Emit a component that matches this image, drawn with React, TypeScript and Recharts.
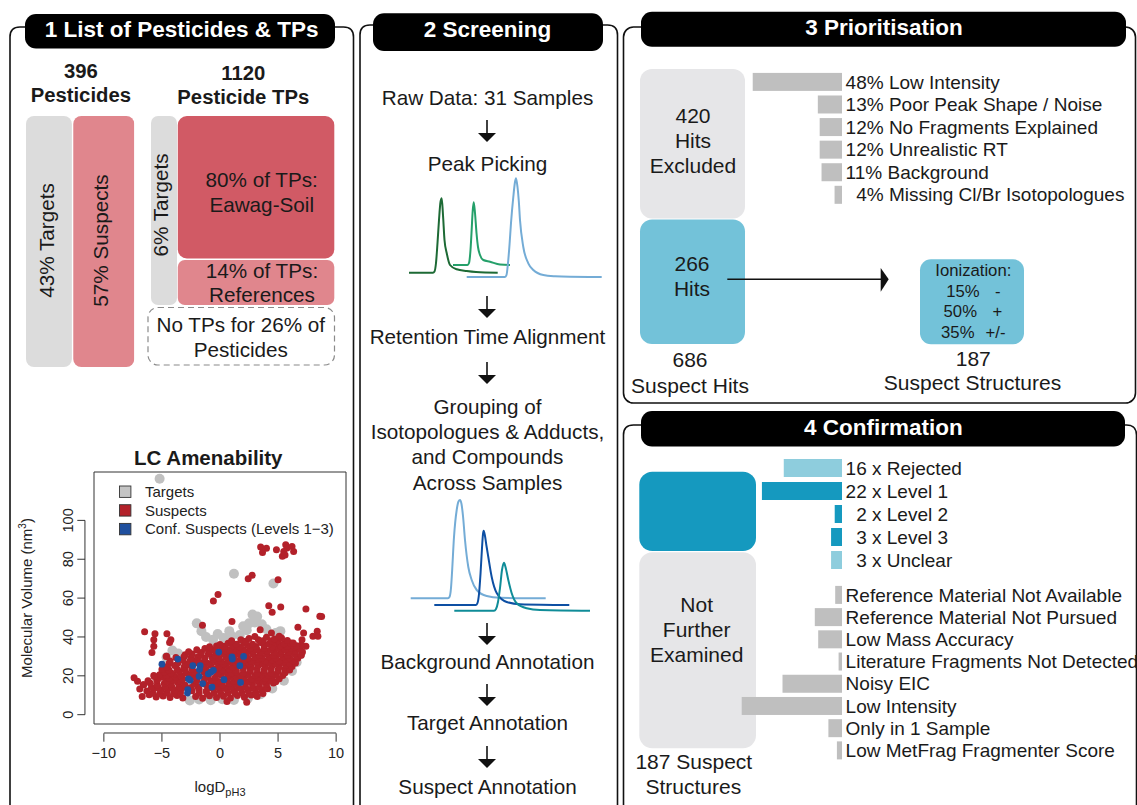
import React from 'react';
import {
  BarChart, Bar, XAxis, YAxis, Cell, LabelList,
  LineChart, Line, ScatterChart, Scatter, ReferenceLine, ReferenceArea, Legend,
} from 'recharts';

const FONT = '"Liberation Sans", Arial, Helvetica, sans-serif';
const INK = '#1a1a1a';

// ---- 1: composition of the compound list ----
const pesticideGroups = ['Pesticides'];
const pesticideTargetsPct = [43];
const pesticideSuspectsPct = [57];

// ---- 1: LC amenability (logD at pH 3 vs molecular volume, nm^3) ----
const targetPoints: [number, number][] = [
  [-5.2, 121.4], [1.2, 72.5], [4.6, 67.5], [2.8, 51.5], [3.2, 50.5], [2.5, 47.0], [-2.0, 47.0],
  [-1.6, 43.0], [-1.2, 40.0], [-0.6, 38.5], [0.3, 39.5], [1.0, 40.5], [1.7, 41.0], [2.3, 43.5],
  [3.6, 46.5], [4.0, 44.0], [4.8, 42.0], [5.2, 43.0], [-4.1, 33.0], [-3.6, 31.5], [-4.6, 29.5],
  [-2.6, 7.3], [-1.8, 7.8], [-0.8, 7.4], [0.2, 8.0], [1.2, 7.6], [2.4, 8.4], [3.5, 10.5],
  [4.5, 13.5], [5.5, 17.5], [6.2, 22.5], [6.6, 27.0], [6.9, 31.0], [-2.4, 28.5], [1.8, 35.5],
  [4.9, 35.0], [-0.2, 41.5], [0.8, 43.0], [2.0, 45.5], [3.0, 47.5],
];

const suspectPoints: [number, number][] = [
  [-6.7, 9.4], [-6.1, 10.2], [-5.5, 9.1], [-4.9, 9.6], [-4.3, 8.8], [-3.7, 9.9], [-3.2, 8.6],
  [-2.1, 9.3], [-1.5, 8.4], [-0.9, 9.8], [-0.3, 8.9], [0.3, 9.5], [0.9, 8.6], [1.5, 9.9],
  [2.1, 9.0], [2.7, 10.1], [3.2, 9.4], [0.6, 6.8], [2.3, 6.4],
  [-5.8, 11.0], [-5.2, 10.8], [-4.6, 11.2], [-4.0, 10.9], [-3.4, 11.3], [-1.8, 11.0], [-1.1, 10.7],
  [-0.5, 11.2], [0.1, 10.8], [0.7, 11.3], [1.3, 10.9], [1.9, 11.1], [2.5, 10.8], [3.1, 11.2], [3.7, 10.9],
  [-6.3, 12.2], [-5.7, 13.4], [-5.1, 12.6], [-4.5, 13.1], [-3.9, 12.4], [-3.3, 13.5], [-2.4, 12.3],
  [-1.8, 13.2], [-1.2, 12.1], [-0.6, 13.4], [0.0, 12.5], [0.6, 13.1], [1.2, 12.2], [1.8, 13.3],
  [2.4, 12.6], [3.0, 13.2], [3.6, 12.4], [4.1, 13.3],
  [-5.9, 14.0], [-5.3, 13.8], [-4.7, 14.2], [-4.1, 13.9], [-3.5, 14.3], [-2.5, 14.0], [-1.9, 14.4],
  [-1.0, 13.8], [-0.2, 14.1], [0.4, 13.8], [1.0, 14.3], [1.6, 13.9], [2.2, 14.2], [2.8, 13.8],
  [3.4, 14.3], [4.0, 14.0],
  [-6.6, 15.4], [-6.0, 16.2], [-5.4, 15.3], [-4.8, 16.1], [-4.2, 15.6], [-3.6, 16.3], [-3.0, 15.2],
  [-2.2, 15.8], [-1.2, 15.4], [-0.4, 16.2], [0.2, 15.3], [0.8, 16.1], [1.4, 15.5], [2.2, 16.2],
  [2.8, 15.4], [3.4, 16.1], [4.0, 15.5], [4.6, 16.3],
  [-6.2, 17.5], [-4.6, 17.2], [-4.0, 17.6], [-3.4, 17.1], [-2.0, 17.4], [-1.4, 17.0], [-0.8, 17.5],
  [-0.1, 17.1], [0.6, 17.6], [1.2, 17.2], [1.9, 17.5], [2.5, 17.1], [3.1, 17.6], [3.7, 17.2],
  [4.3, 17.6], [4.8, 17.0],
  [-7.1, 17.2], [-5.4, 17.7], [-5.0, 19.3], [-4.4, 18.6], [-3.8, 19.1], [-3.2, 18.3], [-2.2, 19.4],
  [-1.3, 18.7], [-0.4, 19.2], [0.4, 18.5], [0.9, 19.4], [1.5, 18.6], [2.1, 19.2], [2.7, 18.4],
  [3.3, 19.3], [3.9, 18.6], [4.5, 19.2], [5.1, 18.5],
  [-5.2, 20.6], [-4.6, 20.2], [-4.0, 20.7], [-3.4, 20.1], [-2.6, 20.5], [-2.0, 20.9], [-1.0, 20.0],
  [0.1, 20.4], [0.7, 20.1], [1.2, 20.7], [1.8, 20.2], [2.4, 20.7], [3.0, 20.1], [3.6, 20.6],
  [4.2, 20.1], [4.8, 20.7], [5.4, 20.2],
  [-7.4, 19.0], [-5.7, 20.1], [-4.8, 22.1], [-4.2, 21.4], [-3.5, 22.2], [-2.9, 21.3], [-2.2, 22.0],
  [-1.4, 21.8], [-0.2, 21.3], [0.4, 22.2], [1.0, 21.4], [1.4, 22.1], [2.0, 21.3], [2.6, 22.2],
  [3.2, 21.4], [3.8, 22.1], [4.4, 21.3], [5.0, 22.2], [5.6, 21.6],
  [-5.0, 23.3], [-4.4, 23.0], [-3.7, 23.5], [-3.0, 23.0], [-2.4, 23.4], [-1.2, 23.1], [-0.4, 23.5],
  [0.2, 23.0], [0.8, 23.4], [1.4, 23.0], [2.0, 23.5], [2.6, 23.1], [3.2, 23.5], [3.8, 23.0],
  [4.4, 23.6], [5.0, 23.1], [5.6, 23.5], [6.0, 23.0],
  [-4.6, 24.6], [-3.9, 25.3], [-3.1, 24.4], [-2.7, 25.6], [-1.4, 24.8], [-0.8, 25.5], [-0.1, 24.6],
  [0.5, 25.4], [1.1, 24.5], [2.2, 25.3], [2.7, 24.4], [3.3, 25.4], [3.9, 24.6], [4.5, 25.3],
  [5.1, 24.5], [5.7, 25.4], [6.2, 24.8],
  [-4.4, 26.2], [-3.6, 26.7], [-3.0, 26.1], [-2.2, 26.5], [-1.7, 26.9], [-1.0, 26.3], [-0.3, 26.8],
  [0.3, 26.2], [0.9, 26.9], [1.4, 26.0], [2.0, 26.8], [2.5, 26.2], [3.1, 26.8], [3.7, 26.1],
  [4.2, 26.7], [4.8, 26.2], [5.4, 26.8], [6.0, 26.3], [6.5, 26.6],
  [-4.3, 27.6], [-3.2, 28.3], [-2.6, 27.4], [-2.0, 28.2], [-1.3, 27.5], [-0.6, 28.3], [0.1, 27.4],
  [0.7, 28.2], [1.5, 27.6], [2.1, 28.3], [2.7, 27.5], [3.3, 28.4], [3.9, 27.6], [4.5, 28.3],
  [5.1, 27.5], [5.7, 28.4], [6.3, 27.7], [6.7, 29.0],
  [-3.8, 29.4], [-3.1, 29.8], [-2.5, 29.3], [-1.9, 29.8], [-1.3, 29.2], [-0.7, 29.7], [-0.1, 29.1],
  [0.5, 29.6], [1.2, 29.0], [1.8, 29.6], [2.4, 29.1], [3.0, 29.7], [3.6, 29.2], [4.2, 29.8],
  [4.8, 29.2], [5.4, 29.8], [6.0, 29.2], [6.6, 30.0],
  [-4.6, 30.1], [-3.0, 30.8], [-2.4, 31.2], [-1.7, 30.4], [-1.0, 31.3], [-0.4, 30.5], [0.3, 31.2],
  [0.9, 30.4], [1.5, 31.3], [2.2, 30.6], [2.8, 31.4], [3.4, 30.5], [4.0, 31.3], [4.6, 30.4],
  [5.2, 31.2], [5.8, 30.5], [6.4, 31.3], [7.0, 30.6],
  [-2.7, 32.4], [-1.6, 32.0], [-0.9, 32.6], [-0.3, 32.0], [0.5, 32.6], [1.1, 32.0], [1.7, 32.7],
  [2.3, 32.1], [2.9, 32.7], [3.5, 32.0], [4.1, 32.6], [4.7, 32.0], [5.3, 32.7], [5.9, 32.1],
  [6.5, 32.6], [7.1, 32.2],
  [-2.0, 33.4], [-1.3, 34.1], [-0.6, 33.3], [0.2, 34.2], [0.8, 33.4], [1.4, 34.2], [2.0, 33.5],
  [2.6, 34.3], [3.2, 33.4], [3.8, 34.2], [4.4, 33.5], [5.0, 34.3], [5.6, 33.4], [6.2, 34.1],
  [6.9, 33.6], [7.4, 35.2],
  [-0.9, 35.0], [-0.3, 35.4], [0.4, 35.2], [1.1, 35.5], [1.7, 35.0], [2.4, 35.6], [3.1, 35.1],
  [3.8, 35.6], [4.5, 35.0], [5.2, 35.5], [5.8, 35.1], [6.4, 34.8], [7.0, 35.8],
  [0.0, 36.1], [0.7, 36.8], [1.4, 36.2], [2.1, 37.0], [2.8, 36.3], [3.5, 37.1], [4.2, 36.4],
  [4.8, 37.2], [5.5, 36.5], [6.1, 36.9], [6.6, 35.5],
  [1.0, 38.0], [1.8, 38.5], [2.2, 37.8], [3.7, 38.0], [4.4, 38.1], [5.0, 38.0], [5.8, 38.2],
  [2.5, 39.2], [3.3, 38.6], [4.0, 39.8], [4.7, 38.9], [5.3, 39.5], [3.0, 40.2],
  [3.5, 86.3], [4.0, 85.6], [3.66, 83.5], [4.86, 84.9], [5.66, 87.5], [5.77, 85.8], [5.49, 84.0],
  [6.2, 86.6], [6.34, 84.0], [5.37, 81.5], [5.6, 82.2], [2.77, 71.7], [2.43, 70.0], [5.0, 69.5],
  [-0.17, 61.9], [-0.57, 58.5], [1.03, 48.0], [-1.51, 46.0], [4.2, 56.0], [4.49, 52.7], [5.23, 55.4],
  [7.4, 54.4], [8.6, 50.6], [8.75, 50.5], [6.71, 45.0], [7.2, 42.0], [8.0, 40.3], [8.37, 42.9],
  [8.43, 40.3], [7.06, 38.6], [3.46, 43.7], [4.43, 42.0], [-6.49, 42.7], [-5.6, 41.7], [-4.57, 41.7],
  [-4.23, 38.6], [-4.34, 37.2], [-5.7, 38.6], [-5.7, 35.2], [-5.86, 32.0], [-4.63, 30.0],
  [-5.43, 17.7], [-6.91, 13.2], [-6.57, 15.4], [-5.66, 19.7], [5.1, 40.3], [6.3, 36.9],
];

const confirmedPoints: [number, number][] = [
  [-5.0, 26.0], [-3.63, 28.6], [-2.34, 25.2], [-2.57, 17.7], [-2.71, 18.4], [-2.77, 12.9],
  [-2.8, 11.1], [-1.71, 25.2], [-1.77, 23.2], [-1.8, 19.7], [-1.49, 16.0], [-1.0, 21.0],
  [-0.77, 22.0], [-0.57, 22.8], [-0.69, 14.2], [-0.11, 32.2], [0.34, 18.0], [1.03, 29.7],
  [1.06, 28.6], [1.71, 25.2], [2.03, 30.0], [1.77, 16.6],
];

const xTicks = [-10, -5, 0, 5, 10];
const yTicks = [0, 20, 40, 60, 80, 100];

// ---- 2: example chromatograms (retention time in min, intensity) ----
const pickTraceA: [number, number][] = [
  [0.9, 12.3], [3.3, 12.3], [3.45, 13.5], [3.6, 22], [3.75, 42], [3.9, 65], [4.05, 83], [4.17, 86.7],
  [4.3, 70], [4.45, 45], [4.67, 32], [5.0, 20], [5.67, 15.7], [6.67, 14], [7.6, 13], [9.77, 12.3],
];
const pickTraceB: [number, number][] = [
  [5.3, 20], [6.75, 20], [6.9, 22], [7.05, 35], [7.15, 52], [7.27, 74], [7.37, 82.7], [7.5, 72],
  [7.65, 52], [7.8, 38], [8.0, 30], [8.33, 25], [9.0, 23.3], [10.0, 20.5], [11.0, 20],
];
const pickTraceC: [number, number][] = [
  [6.67, 8], [10.5, 8], [10.65, 10], [10.8, 22], [10.95, 40], [11.1, 62], [11.33, 88], [11.5, 103],
  [11.6, 106.7], [11.75, 98], [11.88, 84], [12.0, 65], [12.33, 38], [12.83, 21.7], [13.33, 15],
  [14.33, 10], [15.5, 8.7], [17.0, 8.2], [20.17, 8],
];
const groupTraceA: [number, number][] = [
  [1.07, 21.7], [4.8, 21.7], [4.95, 23], [5.1, 32], [5.2, 47], [5.4, 83], [5.67, 110], [5.85, 118.5],
  [6.0, 120], [6.15, 116], [6.3, 104], [6.5, 80], [6.83, 53], [7.17, 40], [7.67, 30], [8.67, 24],
  [10.0, 22.3], [14.57, 21.7],
];
const groupTraceB: [number, number][] = [
  [3.43, 15], [7.6, 15], [7.75, 17], [7.9, 26], [8.05, 46], [8.2, 72], [8.3, 86], [8.37, 89.3],
  [8.5, 84], [8.65, 74], [8.83, 63], [9.17, 43], [9.67, 27], [10.67, 18], [12.0, 15.8], [16.93, 15],
];
const groupTraceC: [number, number][] = [
  [5.43, 9.3], [9.4, 9.3], [9.6, 11], [9.8, 18], [10.0, 32], [10.2, 50], [10.4, 57.3], [10.55, 53],
  [10.83, 40], [11.17, 26.7], [11.67, 16.7], [12.67, 11.7], [14.0, 10], [19.0, 9.3],
];

// ---- 3: reasons for excluding hits (% of 420) ----
const prioReasons = [
  'Low Intensity', 'Poor Peak Shape / Noise', 'No Fragments Explained',
  'Unrealistic RT', 'Background', 'Missing Cl/Br Isotopologues',
];
const prioPct = [48, 13, 12, 12, 11, 4];

// ---- 4: confirmation outcome (counts) ----
const confLabels = ['Rejected', 'Level 1', 'Level 2', 'Level 3', 'Unclear'];
const confCounts = [16, 22, 2, 3, 3];
const confConfirmed = [false, true, true, true, false];

const notExaminedReasons = [
  'Reference Material Not Available', 'Reference Material Not Pursued', 'Low Mass Accuracy',
  'Literature Fragments Not Detected', 'Noisy EIC', 'Low Intensity', 'Only in 1 Sample',
  'Low MetFrag Fragmenter Score',
];
const notExaminedCounts = [4, 16, 14, 2, 35, 59, 8, 3];

// ---- colours ----
const C = {
  grayBox: '#dcdcdc',
  pink: '#e0868d',
  red: '#d15a65',
  lightBox: '#e6e6e8',
  cyan: '#73c2d9',
  teal: '#1599bf',
  tealLight: '#8ecddd',
  barGray: '#bfbfbf',
  ptGray: '#c0c0c0',
  ptRed: '#b3212a',
  ptBlue: '#1f4f9e',
};

const toXY = (pts: [number, number][]) => pts.map(([x, y]) => ({ x, y }));
const toTrace = (pts: [number, number][]) => pts.map(([rt, i]) => ({ rt, i }));

function rectOf(p: any) {
  const vb = p.viewBox && typeof p.viewBox.x === 'number' ? p.viewBox : p;
  const x = Number(vb.x), w = Number(vb.width), y = Number(vb.y), h = Number(vb.height);
  return { left: Math.min(x, x + w), right: Math.max(x, x + w), top: Math.min(y, y + h), h: Math.abs(h) };
}

// ---------- panel 1: 43 / 57 split ----------
const splitData = pesticideGroups.map((g, i) => ({
  group: g, targets: pesticideTargetsPct[i], suspects: pesticideSuspectsPct[i],
}));

const splitShape = (insetL: number, insetR: number) => (p: any) => (
  <rect x={p.x + insetL} y={p.y} width={Math.max(0, p.width - insetL - insetR)} height={p.height}
    rx={8} ry={8} fill={p.fill} />
);

const rotLabel = (name: string) => (p: any) => {
  const r = rectOf(p);
  const cx = (r.left + r.right) / 2 + 4.5;
  const cy = r.top + r.h / 2 - 1;
  return (
    <text x={cx} y={cy} transform={`rotate(-90 ${cx} ${cy})`} textAnchor="middle"
      fontSize={20.7} fontFamily={FONT} fill={INK}>{`${p.value}% ${name}`}</text>
  );
};

function PesticideSplit() {
  return (
    <BarChart width={150} height={280} layout="vertical" data={splitData}
      margin={{ top: 16, bottom: 13.3, left: 26, right: 15.7 }} barCategoryGap={0} barGap={0}>
      <XAxis type="number" domain={[0, 100]} hide allowDataOverflow />
      <YAxis type="category" dataKey="group" hide />
      <Bar dataKey="targets" stackId="p" fill={C.grayBox} shape={splitShape(0, 0.7)} isAnimationActive={false}>
        <LabelList dataKey="targets" content={rotLabel('Targets')} />
      </Bar>
      <Bar dataKey="suspects" stackId="p" fill={C.pink} shape={splitShape(0.7, 0)} isAnimationActive={false}>
        <LabelList dataKey="suspects" content={rotLabel('Suspects')} />
      </Bar>
    </BarChart>
  );
}

// ---------- panel 1: scatter ----------
const SC_W = 353, SC_H = 375;
const SC_M = { top: 42, right: 7, bottom: 51, left: 34 };
const PLOT_BOTTOM = SC_H - SC_M.bottom - 30;
const PLOT_LEFT = SC_M.left + 60;
const fmtTick = (v: number) => (v < 0 ? `\u2212${Math.abs(v)}` : `${v}`);

const XTick = (p: any) => (
  <g>
    <line x1={p.x} x2={p.x} y1={PLOT_BOTTOM + 9.3} y2={PLOT_BOTTOM + 17.7} stroke="#333" strokeWidth={1} />
    <text x={p.x} y={PLOT_BOTTOM + 34.3} textAnchor="middle" fontSize={14.5} fontFamily={FONT} fill="#222">
      {fmtTick(p.payload.value)}
    </text>
  </g>
);
const YTick = (p: any) => {
  const bx = PLOT_LEFT - 21.3;
  return (
    <g>
      <line x1={PLOT_LEFT - 9} x2={PLOT_LEFT - 16.7} y1={p.y} y2={p.y} stroke="#333" strokeWidth={1} />
      <text x={bx} y={p.y} transform={`rotate(-90 ${bx} ${p.y})`} textAnchor="middle" fontSize={14.5}
        fontFamily={FONT} fill="#222">{fmtTick(p.payload.value)}</text>
    </g>
  );
};

const dotShape = (r: number, fill: string) => (p: any) => <circle cx={p.cx} cy={p.cy} r={r} fill={fill} />;

const seriesKey = [
  { name: 'Targets', color: '#c4c4c4' },
  { name: 'Suspects', color: C.ptRed },
  { name: 'Conf. Suspects (Levels 1\u22123)', color: C.ptBlue },
];

function ScatterLegend() {
  return (
    <svg width={240} height={60} style={{ display: 'block' }}>
      {seriesKey.map((s, i) => {
        const cy = 9.7 + i * 18.7;
        return (
          <g key={s.name}>
            <rect x={7.5} y={cy - 5.7} width={11.4} height={11.4} fill={s.color} stroke="#333" strokeWidth={0.9} />
            <text x={33} y={cy + 5.2} fontSize={15} fontFamily={FONT} fill="#222">{s.name}</text>
          </g>
        );
      })}
    </svg>
  );
}

function AmenabilityScatter() {
  return (
    <ScatterChart width={SC_W} height={SC_H} margin={SC_M}>
      <XAxis type="number" dataKey="x" domain={[-10.85, 10.85]} ticks={xTicks} interval={0} height={30}
        axisLine={false} tickLine={false} tick={XTick} allowDataOverflow />
      <YAxis type="number" dataKey="y" domain={[-4.8, 124.9]} ticks={yTicks} interval={0} width={60}
        axisLine={false} tickLine={false} tick={YTick} allowDataOverflow />
      <ReferenceArea x1={-10.85} x2={10.85} y1={-4.8} y2={124.9} fill="none" stroke="#333" strokeWidth={1}
        ifOverflow="visible" />
      <ReferenceLine segment={[{ x: -10, y: -9.43 }, { x: 10, y: -9.43 }]} stroke="#333" strokeWidth={1}
        ifOverflow="visible" />
      <ReferenceLine segment={[{ x: -11.63, y: 0 }, { x: -11.63, y: 100 }]} stroke="#333" strokeWidth={1}
        ifOverflow="visible" />
      <Scatter name="Targets" data={toXY(targetPoints)} fill={C.ptGray} shape={dotShape(5, C.ptGray)}
        isAnimationActive={false} />
      <Scatter name="Suspects" data={toXY(suspectPoints)} fill={C.ptRed} shape={dotShape(3.5, C.ptRed)}
        isAnimationActive={false} />
      <Scatter name="Conf. Suspects" data={toXY(confirmedPoints)} fill={C.ptBlue} shape={dotShape(3.4, C.ptBlue)}
        isAnimationActive={false} />
      <Legend layout="vertical" align="center" verticalAlign="middle" content={() => <ScatterLegend />}
        wrapperStyle={{ left: 112, top: 52, width: 240, height: 60 }} />
    </ScatterChart>
  );
}

// ---------- panel 2: chromatograms ----------
function Chromatogram({ width, height, rtMax, iMax, traces }: {
  width: number; height: number; rtMax: number; iMax: number;
  traces: { data: [number, number][]; color: string }[];
}) {
  return (
    <LineChart width={width} height={height} margin={{ top: 0, right: 0, bottom: 0, left: 0 }}>
      <XAxis type="number" dataKey="rt" domain={[0, rtMax]} hide allowDataOverflow />
      <YAxis type="number" domain={[0, iMax]} hide allowDataOverflow />
      {traces.map((t, i) => (
        <Line key={i} data={toTrace(t.data)} dataKey="i" type="monotone" stroke={t.color} strokeWidth={2}
          dot={false} isAnimationActive={false} />
      ))}
    </LineChart>
  );
}

// ---------- panels 3 & 4: reason bars ----------
const flatBar = (p: any) => {
  const r = rectOf(p);
  return <rect x={r.left} y={r.top} width={r.right - r.left} height={r.h} fill={p.fill} />;
};

const DIGIT_W = 0.556 * 19;
const barLabel = (format: (i: number) => string, pad: (i: number) => boolean) => (p: any) => {
  const r = rectOf(p);
  const idx = Number(p.index);
  return (
    <text x={r.right + 3.6 + (pad(idx) ? DIGIT_W : 0)} y={r.top + r.h / 2} dy="0.35em" fontSize={19}
      fontFamily={FONT} fill={INK}>{format(idx)}</text>
  );
};

const prioData = prioReasons.map((reason, i) => ({ reason, pct: prioPct[i] }));
const confData = confLabels.map((label, i) => ({ label, n: confCounts[i], ok: confConfirmed[i] }));
const notExData = notExaminedReasons.map((reason, i) => ({ reason, n: notExaminedCounts[i] }));

function ReasonBars({ data, dataKey, catKey, max, height, margin, colors, label }: any) {
  return (
    <BarChart width={437} height={height} layout="vertical" data={data} margin={margin} barCategoryGap={0}>
      <XAxis type="number" domain={[0, max]} reversed hide allowDataOverflow />
      <YAxis type="category" dataKey={catKey} hide />
      <Bar dataKey={dataKey} barSize={18} shape={flatBar} isAnimationActive={false}>
        {data.map((_: any, i: number) => <Cell key={i} fill={colors[i]} />)}
        <LabelList dataKey={dataKey} content={label} />
      </Bar>
    </BarChart>
  );
}

// ---------- static layout ----------
const openFrame = (x1: number, x2: number, top: number, bottom: number, r: number) =>
  `M${x1},${bottom} L${x1},${top + r} Q${x1},${top} ${x1 + r},${top} L${x2 - r},${top} Q${x2},${top} ${x2},${top + r} L${x2},${bottom}`;

function T({ x, y, size = 20.7, weight, anchor = 'middle', fill = INK, children }: any) {
  return (
    <text x={x} y={y} fontSize={size} fontWeight={weight} textAnchor={anchor} fill={fill} fontFamily={FONT}>
      {children}
    </text>
  );
}

function DownArrow({ top }: { top: number }) {
  const x = 487;
  return (
    <g>
      <line x1={x} x2={x} y1={top} y2={top + 14} stroke="#111" strokeWidth={1.6} />
      <polygon points={`${x - 9},${top + 13} ${x + 9},${top + 13} ${x},${top + 22}`} fill="#111" />
    </g>
  );
}

function Backdrop() {
  const frame = { fill: 'none', stroke: '#111', strokeWidth: 1.6 };
  return (
    <svg width={1137} height={805} style={{ position: 'absolute', left: 0, top: 0 }}>
      {/* frames */}
      <path d={openFrame(10, 353.5, 27, 830, 10)} {...frame} />
      <path d={openFrame(360, 617.5, 25, 830, 10)} {...frame} />
      <rect x={623.5} y={27} width={512} height={376} rx={10} {...frame} />
      <path d={openFrame(623.5, 1136.5, 425, 830, 10)} {...frame} />

      {/* headers */}
      <rect x={25} y={14} width={310} height={34.5} rx={11} fill="#000" />
      <T x={181.7} y={36.7} size={22.5} weight="bold" fill="#fff">{'1 List of Pesticides & TPs'}</T>
      <rect x={373} y={13.3} width={230} height={37.7} rx={11} fill="#000" />
      <T x={487.5} y={37.3} size={22.5} weight="bold" fill="#fff">2 Screening</T>
      <rect x={641} y={11.7} width={485} height={35} rx={11} fill="#000" />
      <T x={884} y={35} size={22.5} weight="bold" fill="#fff">3 Prioritisation</T>
      <rect x={641} y={411} width={484} height={35.5} rx={11} fill="#000" />
      <T x={883.3} y={435} size={22.5} weight="bold" fill="#fff">4 Confirmation</T>

      {/* panel 1 */}
      <T x={80.8} y={78.3} size={20.3} weight="bold">396</T>
      <T x={80.8} y={101.7} size={20.3} weight="bold">Pesticides</T>
      <T x={243.3} y={80} size={20.3} weight="bold">1120</T>
      <T x={243.3} y={104} size={20.3} weight="bold">Pesticide TPs</T>

      <rect x={151} y={116} width={26} height={189} rx={7} fill={C.grayBox} />
      <text x={168.3} y={205} transform="rotate(-90 168.3 205)" textAnchor="middle" fontSize={20.7}
        fontFamily={FONT} fill={INK}>6% Targets</text>
      <rect x={177.8} y={116} width={156.5} height={142.5} rx={9} fill={C.red} />
      <T x={261.7} y={186.7}>80% of TPs:</T>
      <T x={261.7} y={212.3}>Eawag-Soil</T>
      <rect x={177.8} y={260} width={156.5} height={45} rx={7} fill={C.pink} />
      <T x={262} y={278.3}>14% of TPs:</T>
      <T x={262} y={301.7}>References</T>
      <rect x={148} y={307.5} width={186.5} height={57.5} rx={10} fill="none" stroke="#8a8a8a"
        strokeWidth={1.2} strokeDasharray="6 4" />
      <T x={240.8} y={331.7}>No TPs for 26% of</T>
      <T x={240.8} y={356.7}>Pesticides</T>

      <T x={208.3} y={465} size={20.5} weight="bold">LC Amenability</T>
      <text x={31.7} y={598} transform="rotate(-90 31.7 598)" textAnchor="middle" fontSize={15}
        fontFamily={FONT} fill="#222">
        Molecular Volume  (nm<tspan dy={-6} fontSize={10}>3</tspan><tspan dy={6}>)</tspan>
      </text>
      <text x={220} y={791.7} textAnchor="middle" fontSize={15} fontFamily={FONT} fill="#222">
        logD<tspan dy={4} fontSize={11}>pH3</tspan>
      </text>

      {/* panel 2 */}
      <T x={487.5} y={105}>Raw Data: 31 Samples</T>
      <DownArrow top={120} />
      <T x={487.5} y={170.7}>Peak Picking</T>
      <DownArrow top={296} />
      <T x={487.5} y={344}>Retention Time Alignment</T>
      <DownArrow top={362} />
      <T x={487.5} y={414.3}>Grouping of</T>
      <T x={487.5} y={439.3}>{'Isotopologues & Adducts,'}</T>
      <T x={487.5} y={464.3}>and Compounds</T>
      <T x={487.5} y={490}>Across Samples</T>
      <DownArrow top={623} />
      <T x={487.5} y={669.3}>Background Annotation</T>
      <DownArrow top={684} />
      <T x={487.5} y={730}>Target Annotation</T>
      <DownArrow top={746} />
      <T x={487.5} y={794}>Suspect Annotation</T>

      {/* panel 3 */}
      <rect x={640} y={69} width={105} height={149.5} rx={12} fill={C.lightBox} />
      <T x={693} y={123.3} size={21}>420</T>
      <T x={693} y={147.7} size={21}>Hits</T>
      <T x={693} y={173.3} size={21}>Excluded</T>
      <rect x={640} y={219.5} width={105} height={124.5} rx={12} fill={C.cyan} />
      <T x={692} y={270.7} size={21}>266</T>
      <T x={692} y={295.7} size={21}>Hits</T>
      <line x1={727.3} x2={882} y1={279.3} y2={279.3} stroke="#111" strokeWidth={1.6} />
      <polygon points="880.7,268 888.7,279.3 880.7,291.7" fill="#111" />
      <T x={690} y={367.3} size={21}>686</T>
      <T x={690} y={392.7} size={21}>Suspect Hits</T>

      <rect x={920} y={259.3} width={104} height={85} rx={11} fill={C.cyan} />
      <T x={973.3} y={276} size={16.7}>Ionization:</T>
      <T x={963} y={296.7} size={16.7}>15%</T>
      <T x={997.7} y={296.7} size={16.7}>-</T>
      <T x={960.3} y={317.3} size={16.7}>50%</T>
      <T x={997.3} y={317.3} size={16.7}>+</T>
      <T x={957.8} y={337.7} size={16.7}>35%</T>
      <T x={995.5} y={337.7} size={16.7}>+/-</T>
      <T x={973.3} y={365.7} size={21}>187</T>
      <T x={972.5} y={390} size={21}>Suspect Structures</T>

      {/* panel 4 */}
      <rect x={639.3} y={471.7} width={116.7} height={79.3} rx={13} fill={C.teal} />
      <rect x={639.3} y={552.3} width={116.7} height={196} rx={13} fill={C.lightBox} />
      <T x={696.7} y={611.7} size={21}>Not</T>
      <T x={696.7} y={636.7} size={21}>Further</T>
      <T x={696.7} y={661.7} size={21}>Examined</T>
      <T x={693.8} y={769} size={21}>187 Suspect</T>
      <T x={693.3} y={794} size={21}>Structures</T>
    </svg>
  );
}

const abs = (left: number, top: number): React.CSSProperties => ({ position: 'absolute', left, top });

export default function App() {
  return (
    <div style={{ position: 'absolute', left: 0, top: 0, width: 1137, height: 805, background: '#fff',
      overflow: 'hidden', fontFamily: FONT }}>
      <Backdrop />

      <div style={abs(0, 100)}><PesticideSplit /></div>
      <div style={abs(0, 430)}><AmenabilityScatter /></div>

      <div style={abs(400, 170)}>
        <Chromatogram width={210} height={115} rtMax={21} iMax={115} traces={[
          { data: pickTraceA, color: '#1d6a35' },
          { data: pickTraceB, color: '#25a06a' },
          { data: pickTraceC, color: '#74acd6' },
        ]} />
      </div>
      <div style={abs(400, 490)}>
        <Chromatogram width={200} height={130} rtMax={20} iMax={130} traces={[
          { data: groupTraceA, color: '#74acd6' },
          { data: groupTraceB, color: '#0d4fa3' },
          { data: groupTraceC, color: '#0f8c98' },
        ]} />
      </div>

      <div style={abs(700, 60)}>
        <ReasonBars data={prioData} dataKey="pct" catKey="reason" max={50} height={160}
          margin={{ top: 10.9, bottom: 13.6, left: 49, right: 295 }}
          colors={prioData.map(() => C.barGray)}
          label={barLabel((i) => `${prioPct[i]}% ${prioReasons[i]}`, (i) => prioPct[i] < 10)} />
      </div>
      <div style={abs(700, 440)}>
        <ReasonBars data={confData} dataKey="n" catKey="label" max={25} height={140}
          margin={{ top: 16, bottom: 9, left: 51, right: 295 }}
          colors={confData.map((d) => (d.ok ? C.teal : C.tealLight))}
          label={barLabel((i) => `${confCounts[i]} x ${confLabels[i]}`, (i) => confCounts[i] < 10)} />
      </div>
      <div style={abs(700, 575)}>
        <ReasonBars data={notExData} dataKey="n" catKey="reason" max={60} height={200}
          margin={{ top: 8.9, bottom: 13.4, left: 40, right: 295 }}
          colors={notExData.map(() => C.barGray)}
          label={barLabel((i) => notExaminedReasons[i], () => false)} />
      </div>
    </div>
  );
}
